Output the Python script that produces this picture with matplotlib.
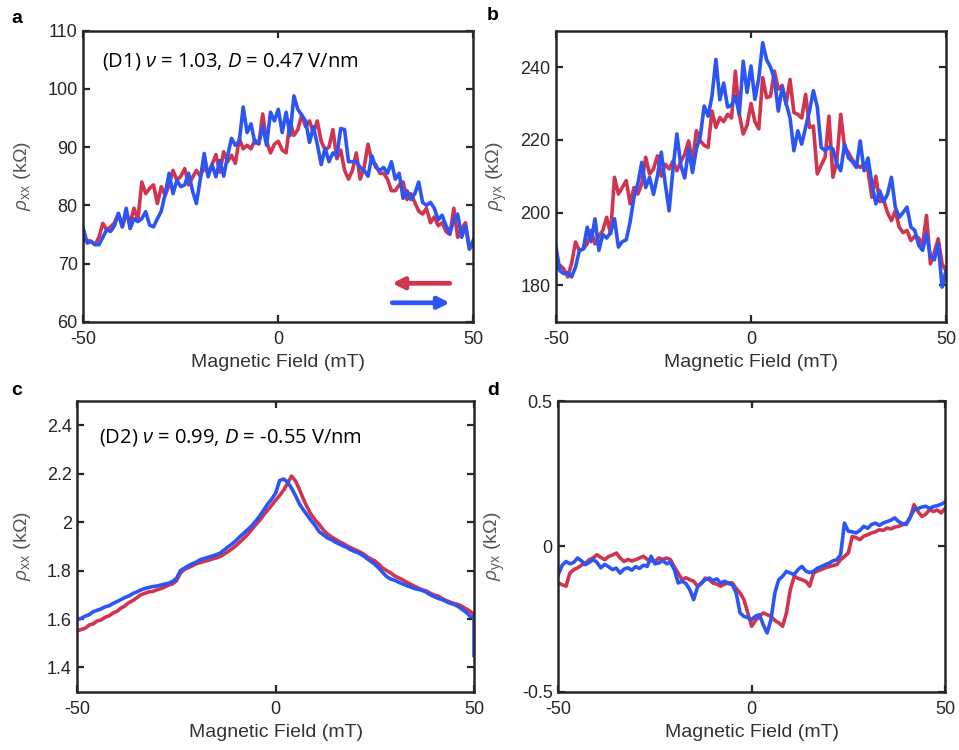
import numpy as np
import matplotlib
matplotlib.use('Agg')
import matplotlib.pyplot as plt

# magnetic field sweep (mT), 1 mT steps
field = np.linspace(-50, 50, 101)

# (a) rho_xx, D1 (kOhm)
rxx_d1_down = [74.0, 74.0, 73.8, 73.2, 74.5, 76.9, 75.8, 76.3, 77.0, 78.6,
               76.3, 78.6, 77.0, 79.5, 77.5, 84.0, 82.0, 82.9, 83.5, 80.3,
               83.2, 81.7, 83.5, 86.0, 84.3, 85.0, 86.3, 83.5, 84.8, 86.0,
               85.0, 86.5, 85.5, 87.0, 88.7, 85.7, 89.2, 87.5, 88.6, 87.2,
               91.5, 89.7, 90.3, 89.7, 91.2, 90.5, 95.7, 91.0, 89.0, 90.5,
               91.0, 89.5, 89.0, 94.5, 92.0, 93.0, 95.5, 93.5, 94.5, 92.5,
               94.5, 91.0, 89.5, 90.0, 93.0, 88.0, 89.5, 86.0, 84.5, 86.0,
               89.0, 84.5, 86.5, 90.5, 87.5, 87.0, 85.5, 85.5, 84.5, 82.5,
               82.5, 83.5, 84.0, 81.0, 82.0, 80.5, 79.0, 78.5, 79.5, 77.0,
               78.0, 76.5, 77.0, 75.5, 75.0, 79.5, 74.5, 76.0, 77.0, 72.5,
               73.5]
rxx_d1_up = [76.0, 73.5, 73.8, 73.3, 73.2, 74.5, 75.8, 75.5, 76.5, 78.6,
             76.3, 79.5, 76.0, 77.7, 77.2, 77.7, 78.9, 76.6, 76.3, 77.7,
             79.0, 82.0, 85.5, 82.0, 84.3, 83.2, 83.5, 85.5, 82.5, 80.3,
             84.5, 88.9, 84.9, 87.0, 84.9, 87.7, 85.0, 88.5, 91.5, 90.3,
             91.0, 96.9, 92.5, 94.0, 90.7, 90.7, 93.6, 90.3, 96.0, 94.5,
             96.5, 92.5, 96.0, 92.0, 98.8, 96.5, 95.5, 94.5, 90.8, 93.5,
             90.5, 87.0, 89.8, 87.5, 89.0, 88.5, 93.2, 93.0, 87.5, 87.5,
             87.5, 86.5, 86.0, 85.0, 88.5, 86.5, 86.0, 86.5, 85.5, 87.5,
             84.5, 85.5, 81.2, 82.5, 81.0, 82.0, 84.0, 80.5, 80.0, 80.5,
             79.5, 77.5, 78.3, 76.5, 75.2, 77.5, 78.5, 74.5, 76.5, 72.5,
             74.0]

# (b) rho_yx, D1 (kOhm)
ryx_d1_down = [184.5, 185.5, 184.5, 182.3, 186.0, 191.9, 189.6, 190.0, 191.4, 195.1,
               191.4, 193.5, 195.1, 198.7, 194.2, 209.7, 205.1, 206.9, 208.8, 202.4,
               206.9, 205.1, 208.0, 215.2, 210.6, 212.0, 215.6, 210.0, 213.3, 212.0,
               214.2, 211.5, 214.0, 216.0, 219.7, 214.0, 222.5, 219.7, 218.5, 217.9,
               227.9, 223.4, 226.1, 225.0, 227.0, 226.0, 238.9, 227.0, 221.6, 224.0,
               230.0, 225.0, 223.0, 237.1, 231.6, 232.0, 238.9, 233.9, 235.0, 229.8,
               236.6, 227.5, 227.0, 226.0, 232.5, 223.4, 223.8, 210.6, 213.0, 215.2,
               226.5, 209.7, 214.0, 227.0, 217.9, 216.5, 214.5, 213.3, 212.4, 213.3,
               211.5, 204.2, 210.0, 203.0, 203.5, 200.0, 197.8, 200.5, 196.0, 194.5,
               195.1, 192.3, 193.5, 193.0, 191.0, 199.2, 185.9, 189.0, 192.8, 185.9,
               184.0]
ryx_d1_up = [190.5, 184.0, 183.2, 183.5, 182.3, 185.0, 189.6, 190.0, 196.0, 192.0,
             198.3, 189.6, 194.0, 193.0, 194.5, 198.3, 190.5, 192.0, 192.5, 197.4,
             204.2, 208.0, 213.8, 206.9, 209.7, 205.0, 210.0, 216.6, 208.0, 200.5,
             212.0, 221.6, 213.0, 209.5, 217.5, 211.0, 217.5, 221.0, 229.3, 226.5,
             232.0, 242.1, 231.0, 235.6, 229.0, 229.5, 232.0, 227.0, 241.6, 233.0,
             240.3, 231.1, 237.0, 246.7, 242.0, 240.0, 236.8, 227.9, 234.5, 230.0,
             226.1, 217.0, 222.5, 218.8, 223.4, 228.0, 233.5, 229.0, 217.9, 217.0,
             218.0, 217.5, 213.5, 211.5, 218.8, 215.0, 214.0, 212.4, 219.7, 211.5,
             215.0, 208.0, 202.4, 206.0, 203.0, 205.0, 209.7, 201.5, 198.7, 200.0,
             201.5, 196.0, 195.1, 191.0, 189.6, 194.2, 188.0, 187.0, 191.4, 179.5,
             184.0]

# (c) rho_xx, D2 (kOhm)
rxx_d2_down = [1.551, 1.557, 1.562, 1.575, 1.580, 1.592, 1.596, 1.607, 1.613, 1.625,
               1.632, 1.645, 1.654, 1.668, 1.676, 1.688, 1.700, 1.706, 1.712, 1.714,
               1.720, 1.725, 1.732, 1.740, 1.745, 1.758, 1.790, 1.805, 1.812, 1.820,
               1.828, 1.833, 1.838, 1.842, 1.848, 1.852, 1.858, 1.868, 1.878, 1.890,
               1.903, 1.918, 1.934, 1.950, 1.970, 1.990, 2.008, 2.030, 2.050, 2.070,
               2.090, 2.110, 2.132, 2.160, 2.190, 2.170, 2.135, 2.095, 2.060, 2.030,
               2.008, 1.990, 1.968, 1.952, 1.940, 1.930, 1.920, 1.912, 1.902, 1.894,
               1.886, 1.879, 1.870, 1.858, 1.848, 1.840, 1.826, 1.810, 1.800, 1.790,
               1.778, 1.770, 1.762, 1.752, 1.744, 1.735, 1.728, 1.720, 1.716, 1.706,
               1.699, 1.695, 1.684, 1.676, 1.670, 1.664, 1.660, 1.652, 1.642, 1.632,
               1.620]
rxx_d2_up = [1.598, 1.603, 1.612, 1.618, 1.630, 1.636, 1.642, 1.650, 1.655, 1.664,
             1.672, 1.680, 1.689, 1.695, 1.705, 1.712, 1.720, 1.726, 1.730, 1.734,
             1.736, 1.740, 1.744, 1.748, 1.755, 1.768, 1.800, 1.810, 1.820, 1.828,
             1.835, 1.845, 1.850, 1.855, 1.860, 1.865, 1.872, 1.885, 1.898, 1.910,
             1.924, 1.940, 1.955, 1.970, 1.985, 2.005, 2.025, 2.050, 2.075, 2.095,
             2.120, 2.172, 2.178, 2.165, 2.140, 2.110, 2.075, 2.050, 2.028, 2.005,
             1.985, 1.960, 1.948, 1.935, 1.928, 1.918, 1.910, 1.902, 1.895, 1.885,
             1.878, 1.872, 1.862, 1.850, 1.838, 1.826, 1.810, 1.792, 1.775, 1.765,
             1.760, 1.752, 1.745, 1.738, 1.732, 1.726, 1.722, 1.718, 1.710, 1.700,
             1.692, 1.685, 1.680, 1.672, 1.665, 1.660, 1.652, 1.640, 1.628, 1.612,
             1.606]
# last point of the up sweep drops at the right edge
up_end_field = 50.0
up_end_rxx = 1.45

# (d) rho_yx, D2 (kOhm)
ryx_d2_down = [-0.126, -0.132, -0.137, -0.092, -0.080, -0.074, -0.065, -0.058, -0.046, -0.040,
               -0.029, -0.038, -0.046, -0.035, -0.030, -0.023, -0.040, -0.052, -0.045, -0.050,
               -0.046, -0.040, -0.034, -0.045, -0.050, -0.052, -0.040, -0.045, -0.040, -0.046,
               -0.070, -0.092, -0.115, -0.108, -0.115, -0.120, -0.137, -0.128, -0.109, -0.115,
               -0.126, -0.130, -0.137, -0.130, -0.125, -0.126, -0.145, -0.160, -0.183, -0.229,
               -0.275, -0.255, -0.241, -0.229, -0.235, -0.241, -0.255, -0.263, -0.275, -0.229,
               -0.149, -0.103, -0.110, -0.115, -0.120, -0.137, -0.092, -0.085, -0.080, -0.074,
               -0.070, -0.066, -0.063, -0.046, -0.035, -0.023, 0.034, 0.030, 0.023, 0.035,
               0.040, 0.046, 0.050, 0.057, 0.055, 0.063, 0.060, 0.066, 0.069, 0.074,
               0.080, 0.100, 0.143, 0.120, 0.103, 0.110, 0.126, 0.120, 0.125, 0.115,
               0.130]
ryx_d2_up = [-0.097, -0.065, -0.052, -0.060, -0.055, -0.040, -0.050, -0.063, -0.055, -0.045,
             -0.055, -0.074, -0.062, -0.070, -0.080, -0.075, -0.092, -0.078, -0.074, -0.082,
             -0.070, -0.076, -0.065, -0.069, -0.034, -0.060, -0.057, -0.048, -0.060, -0.055,
             -0.080, -0.126, -0.120, -0.128, -0.149, -0.183, -0.140, -0.126, -0.115, -0.109,
             -0.118, -0.112, -0.126, -0.120, -0.128, -0.132, -0.160, -0.229, -0.241, -0.245,
             -0.252, -0.240, -0.235, -0.270, -0.298, -0.252, -0.160, -0.115, -0.103, -0.086,
             -0.092, -0.097, -0.080, -0.069, -0.085, -0.090, -0.086, -0.075, -0.070, -0.063,
             -0.058, -0.050, -0.046, -0.029, 0.080, 0.052, 0.050, 0.046, 0.055, 0.069,
             0.062, 0.075, 0.080, 0.072, 0.080, 0.085, 0.090, 0.098, 0.085, 0.078,
             0.075, 0.100, 0.126, 0.130, 0.135, 0.138, 0.130, 0.137, 0.140, 0.145,
             0.152]

RED = '#D1344F'
BLUE = '#2C55F6'
DARK = '#262626'
LW = 2.6

plt.rcParams['font.family'] = ['Liberation Sans', 'DejaVu Sans']
plt.rcParams['mathtext.fontset'] = 'custom'
plt.rcParams['mathtext.rm'] = 'Open Sans'
plt.rcParams['mathtext.it'] = 'Open Sans:italic'

fig = plt.figure(figsize=(9.59, 7.5), dpi=100)

W, H = 959.0, 750.0
def rect(l, r, t, b):
    return [l / W, 1 - b / H, (r - l) / W, (b - t) / H]

ax_a = fig.add_axes(rect(83.3, 473.3, 30.7, 321.7))
ax_b = fig.add_axes(rect(556.0, 946.0, 30.7, 321.7))
ax_c = fig.add_axes(rect(77.3, 474.0, 401.0, 691.7))
ax_d = fig.add_axes(rect(558.3, 945.0, 401.0, 691.7))

ax_a.plot(field, rxx_d1_down, color=RED, lw=LW)
ax_a.plot(field, rxx_d1_up, color=BLUE, lw=LW)
ax_b.plot(field, ryx_d1_down, color=RED, lw=LW)
ax_b.plot(field, ryx_d1_up, color=BLUE, lw=LW)
ax_c.plot(field, rxx_d2_down, color=RED, lw=LW)
ax_c.plot(np.append(field, up_end_field), rxx_d2_up + [up_end_rxx], color=BLUE, lw=LW)
ax_d.plot(field, ryx_d2_down, color=RED, lw=LW)
ax_d.plot(field, ryx_d2_up, color=BLUE, lw=LW)

setup = [
    (ax_a, (60, 110), [60, 70, 80, 90, 100, 110], ['60', '70', '80', '90', '100', '110'], 'xx', -0.129),
    (ax_b, (170, 250), [180, 200, 220, 240], ['180', '200', '220', '240'], 'yx', -0.118),
    (ax_c, (1.3, 2.5), [1.4, 1.6, 1.8, 2.0, 2.2, 2.4], ['1.4', '1.6', '1.8', '2', '2.2', '2.4'], 'xx', -0.112),
    (ax_d, (-0.5, 0.5), [-0.5, 0, 0.5], ['-0.5', '0', '0.5'], 'yx', -0.13),
]
for ax, ylim, yt, ytl, sub, ylx in setup:
    ax.set_xlim(-50, 50)
    ax.set_ylim(*ylim)
    ax.set_xticks([-50, 0, 50])
    ax.set_xticklabels(['-50', '0', '50'])
    ax.set_yticks(yt)
    ax.set_yticklabels(ytl)
    ax.tick_params(direction='in', length=5, width=1.6, top=True, right=True,
                   labelsize=13, colors=DARK)
    ax.tick_params(axis='y', pad=4)
    ax.tick_params(axis='x', pad=7)
    for s in ax.spines.values():
        s.set_linewidth(1.8)
        s.set_color(DARK)
    ax.set_xlabel('Magnetic Field (mT)', fontsize=14, color='#333333')
    ax.xaxis.set_label_coords(0.5, -0.11)
    ax.set_ylabel(r'$\rho_{\rm %s}$ (k' % sub + '\u03A9)', fontsize=14, color='#555555')
    ax.yaxis.set_label_coords(ylx, 0.5)

ax_a.text(0.048, 0.893, r'(D1) $\nu$ = 1.03, $D$ = 0.47 V/nm', transform=ax_a.transAxes,
          fontsize=14.5, family='Open Sans', va='center', ha='left', color='black')
ax_c.text(0.055, 0.876, r'(D2) $\nu$ = 0.99, $D$ = -0.55 V/nm', transform=ax_c.transAxes,
          fontsize=14.5, family='Open Sans', va='center', ha='left', color='black')

# sweep direction arrows
ax_a.annotate('', xy=(0.792, 0.132), xytext=(0.94, 0.132), xycoords='axes fraction',
              arrowprops=dict(arrowstyle='-|>', color=RED, lw=3.4, mutation_scale=17,
                              shrinkA=0, shrinkB=0))
ax_a.annotate('', xy=(0.94, 0.065), xytext=(0.792, 0.065), xycoords='axes fraction',
              arrowprops=dict(arrowstyle='-|>', color=BLUE, lw=3.4, mutation_scale=17,
                              shrinkA=0, shrinkB=0))

for lab, x, y in [('a', 11, 23), ('b', 487, 20), ('c', 11, 395), ('d', 487, 395)]:
    fig.text(x / W, 1 - y / H, lab, fontsize=14, fontweight='bold', va='baseline',
             ha='left', color='black')

fig.savefig('out.png', dpi=100, facecolor='white')
